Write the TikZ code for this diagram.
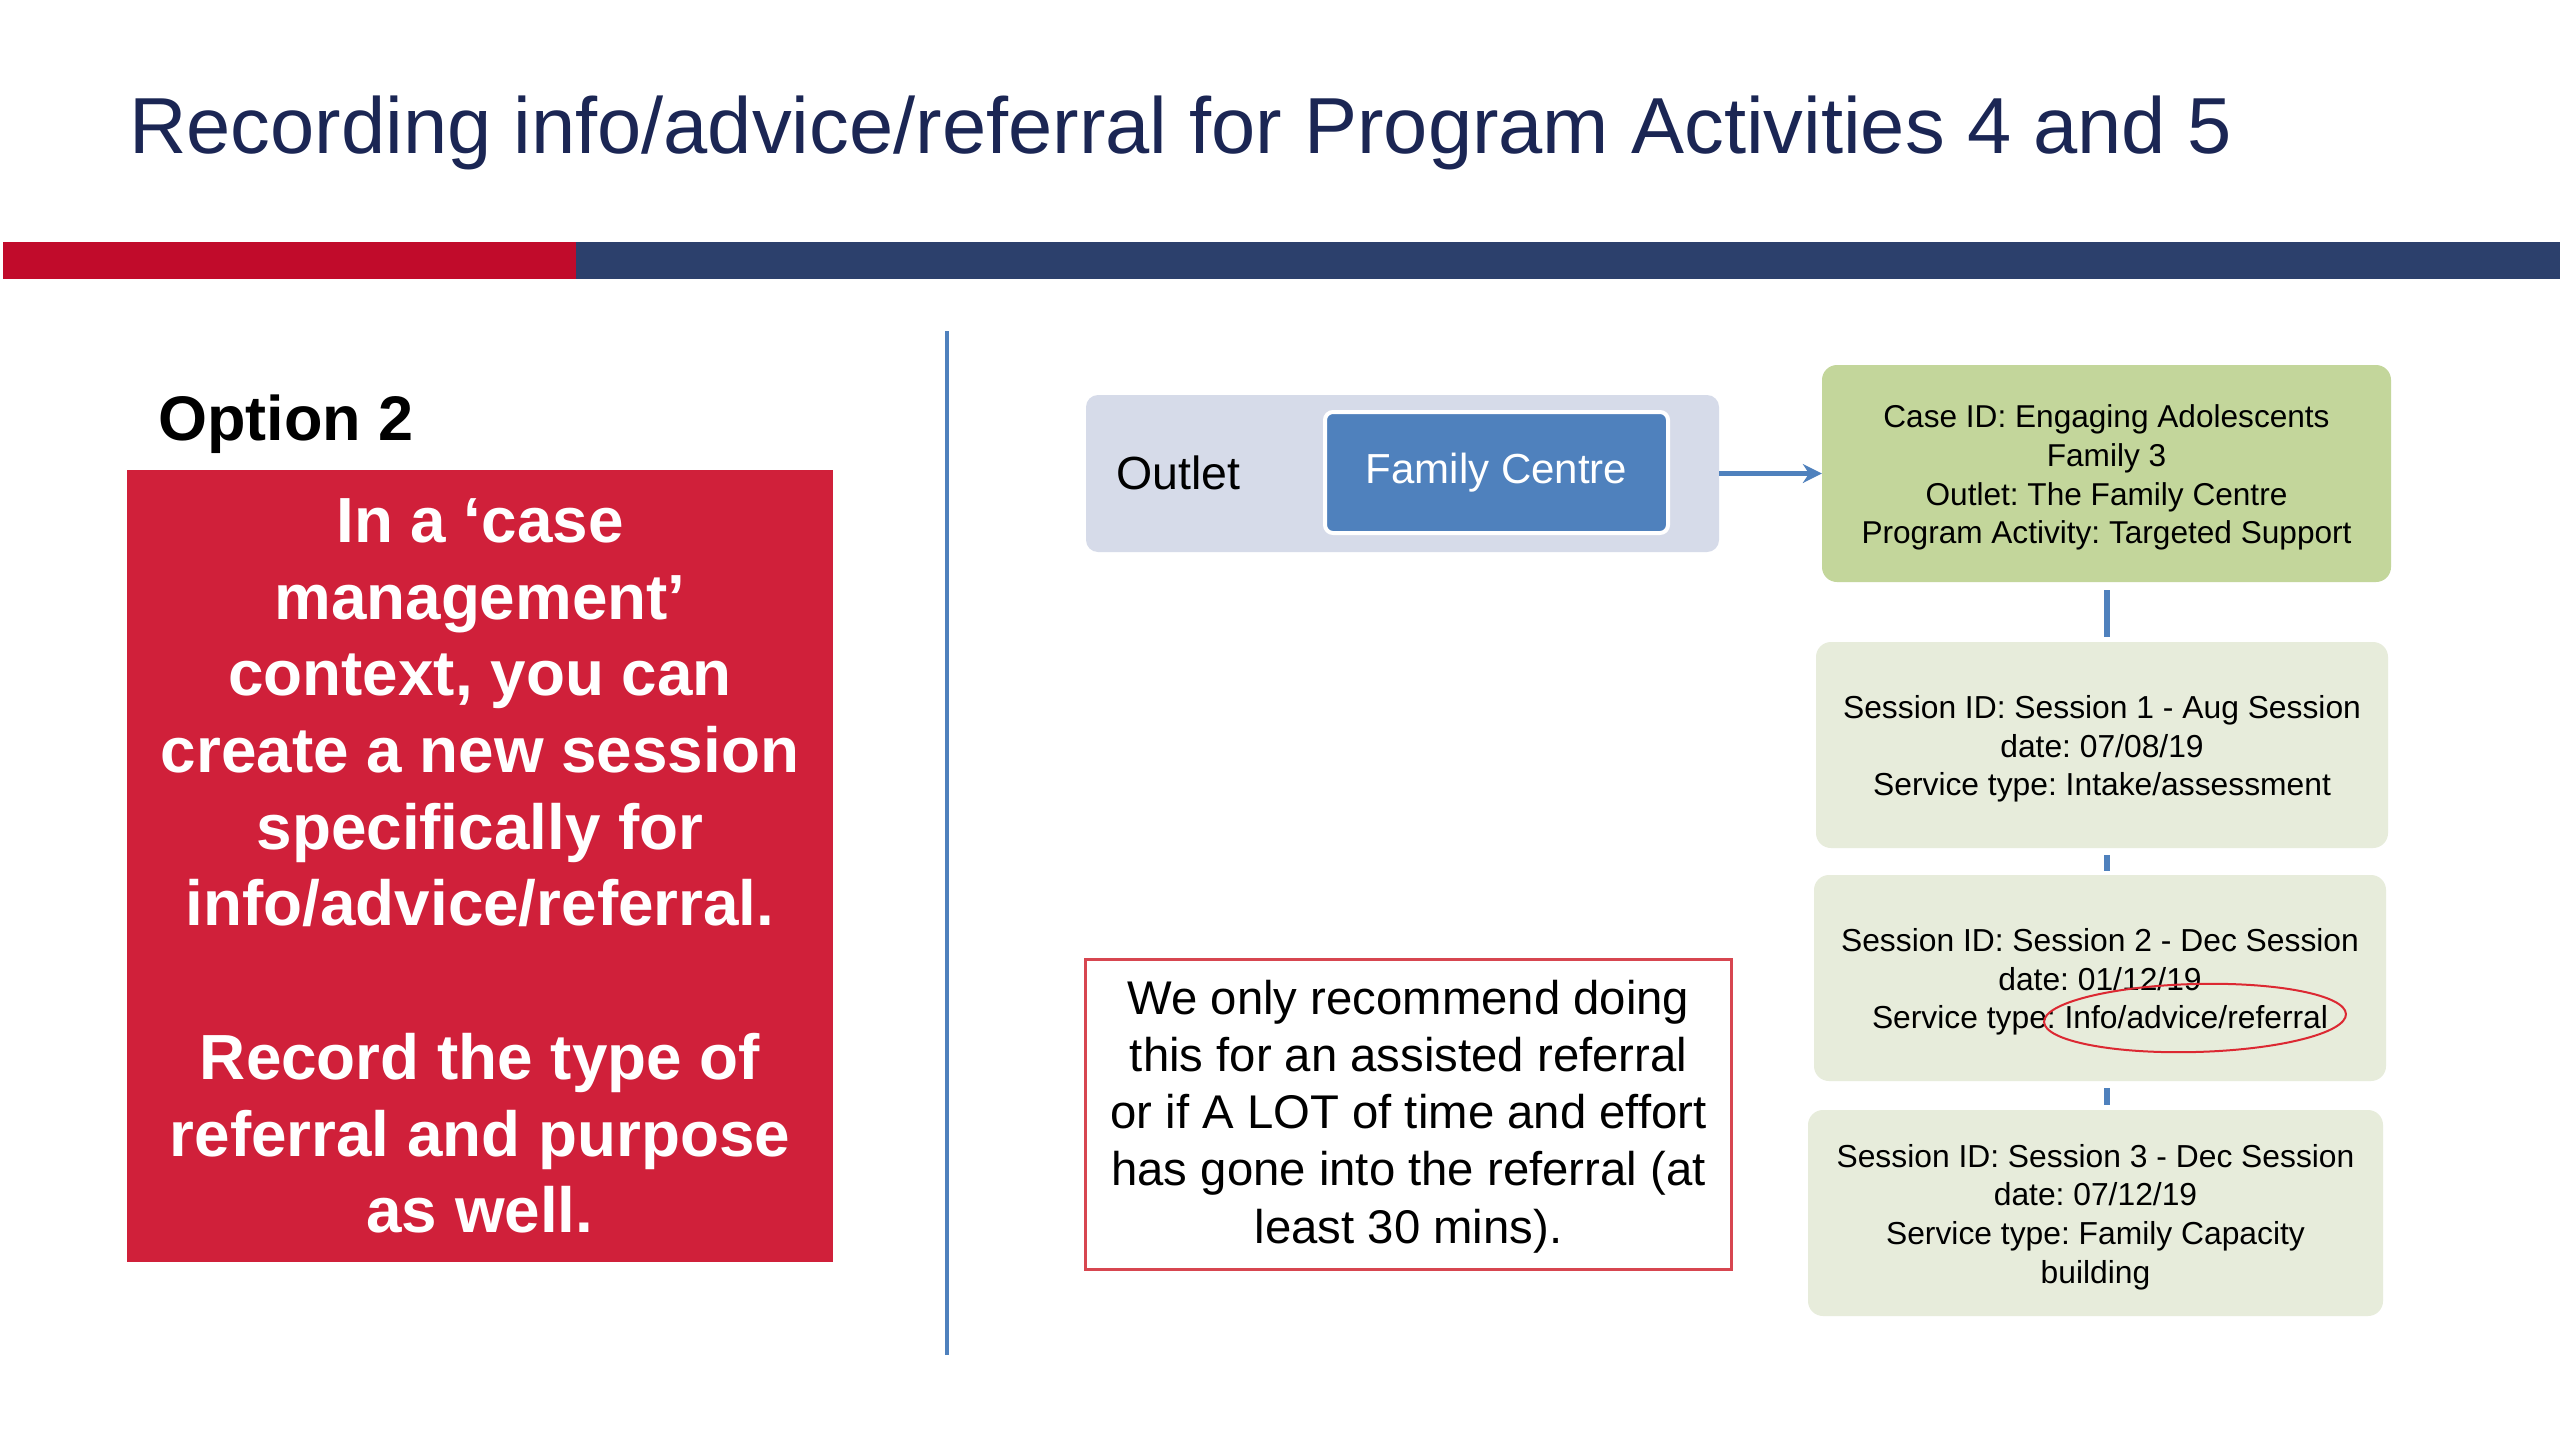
\documentclass[tikz,border=0pt]{standalone}
\usepackage{fontspec}
\setmainfont{Liberation Sans}
\frenchspacing
\usetikzlibrary{arrows.meta,shapes.geometric}
\definecolor{titlenavy}{RGB}{27,38,84}
\definecolor{barred}{RGB}{193,11,43}
\definecolor{barnavy}{RGB}{44,64,108}
\definecolor{divblue}{RGB}{79,129,189}
\definecolor{redboxc}{RGB}{208,32,58}
\definecolor{outletbg}{RGB}{214,219,233}
\definecolor{famblue}{RGB}{79,129,189}
\definecolor{casegreen}{RGB}{195,214,155}
\definecolor{sessbg}{RGB}{231,236,219}
\definecolor{notered}{RGB}{215,70,80}
\definecolor{ovalred}{RGB}{220,40,50}
\newcommand{\dn}{\rule{0pt}{31pt}}
\begin{document}
\begin{tikzpicture}[x=1pt,y=-1pt,
  sessbox/.style={fill=sessbg, rounded corners=15pt, minimum width=572pt, minimum height=206pt, inner sep=0pt, align=center,
    font=\fontsize{31.8}{38.6}\selectfont},
  conn/.style={draw=divblue, line width=6pt},
  arr/.style={draw=famblue, line width=5pt, -{Stealth[length=19pt,width=19pt]}}
]
\useasboundingbox (0,0) rectangle (2560,1440);
\fill[white] (0,0) rectangle (2560,1440);
% header
\node[anchor=base west, inner sep=0pt, text=titlenavy, font=\fontsize{79.5}{95}\selectfont] (title) at (129,153) {Recording info/advice/referral for Program Activities 4 and 5};
\fill[barred] (3,242) rectangle (576,279);
\fill[barnavy] (576,242) rectangle (2560,279);
% divider
\draw[draw=divblue, line width=4pt] (947,331) -- (947,1355);
% left side
\node[anchor=base west, inner sep=0pt, font=\bfseries\fontsize{63}{76}\selectfont] (opt) at (158,440) {Option 2};
\node[fill=redboxc, minimum width=706pt, minimum height=792pt, inner sep=0pt, align=center, text=white,
  font=\bfseries\fontsize{63.8}{76.7}\selectfont] (rb) at (480,866)
  {In a ‘case\\management’\\context, you can\\create a new session\\specifically for\\info/advice/referral.\\[76.7pt]Record the type of\\referral and purpose\\as well.};
% outlet group
\node[fill=outletbg, rounded corners=12pt, minimum width=633pt, minimum height=157pt, inner sep=0pt] (grp) at (1402.5,473.5) {};
\node[anchor=base west, inner sep=0pt, font=\fontsize{46.5}{56}\selectfont] (outlet) at (1116,489) {Outlet};
\node[fill=famblue, draw=white, line width=4pt, rounded corners=8pt, minimum width=343pt, minimum height=121pt, inner sep=0pt,
  text=white, font=\fontsize{42}{50}\selectfont] (fam) at (1496.5,472.5) {\raisebox{-3pt}{Family Centre}};
% case box
\node[fill=casegreen, rounded corners=15pt, minimum width=569pt, minimum height=217pt, inner sep=0pt, align=center,
  font=\fontsize{31.6}{38.7}\selectfont] (case) at (2106.5,473.5)
  {\dn Case ID: Engaging Adolescents\\Family 3\\Outlet: The Family Centre\\Program Activity: Targeted Support};
\draw[arr] (grp.east) -- (case.west);
% sessions
\node[sessbox] (s1) at (2102,745) {\dn Session ID: Session 1 - Aug Session\\date: 07/08/19\\Service type: Intake/assessment};
\node[sessbox] (s2) at (2100,978) {\dn Session ID: Session 2 - Dec Session\\date: 01/12/19\\Service type: Info/advice/referral};
\node[sessbox, minimum width=575pt] (s3) at (2095.5,1213) {\dn Session ID: Session 3 - Dec Session\\date: 07/12/19\\Service type: Family Capacity\\building};
\draw[conn, shorten <=8pt, shorten >=5pt] (case.south) -- (case.south |- s1.north);
\draw[conn, shorten <=7pt, shorten >=4pt] (s1.south -| case.south) -- (case.south |- s2.north);
\draw[conn, shorten <=7pt, shorten >=5pt] (s2.south -| case.south) -- (case.south |- s3.north);
% highlight oval
\node[draw=ovalred, line width=2pt, ellipse, minimum width=302pt, minimum height=68pt, inner sep=0pt, rotate=1.5] (oval) at (2195,1018) {};
% note box
\node[draw=notered, line width=3pt, fill=white, minimum width=646pt, minimum height=310pt, inner sep=0pt, align=center,
  font=\fontsize{47.3}{57.3}\selectfont] (note) at (1408.5,1114.5)
  {\rule{0pt}{38pt}We only recommend doing\\this for an assisted referral\\or if A LOT of time and effort\\has gone into the referral (at\\least 30 mins).};
\end{tikzpicture}
\end{document}
